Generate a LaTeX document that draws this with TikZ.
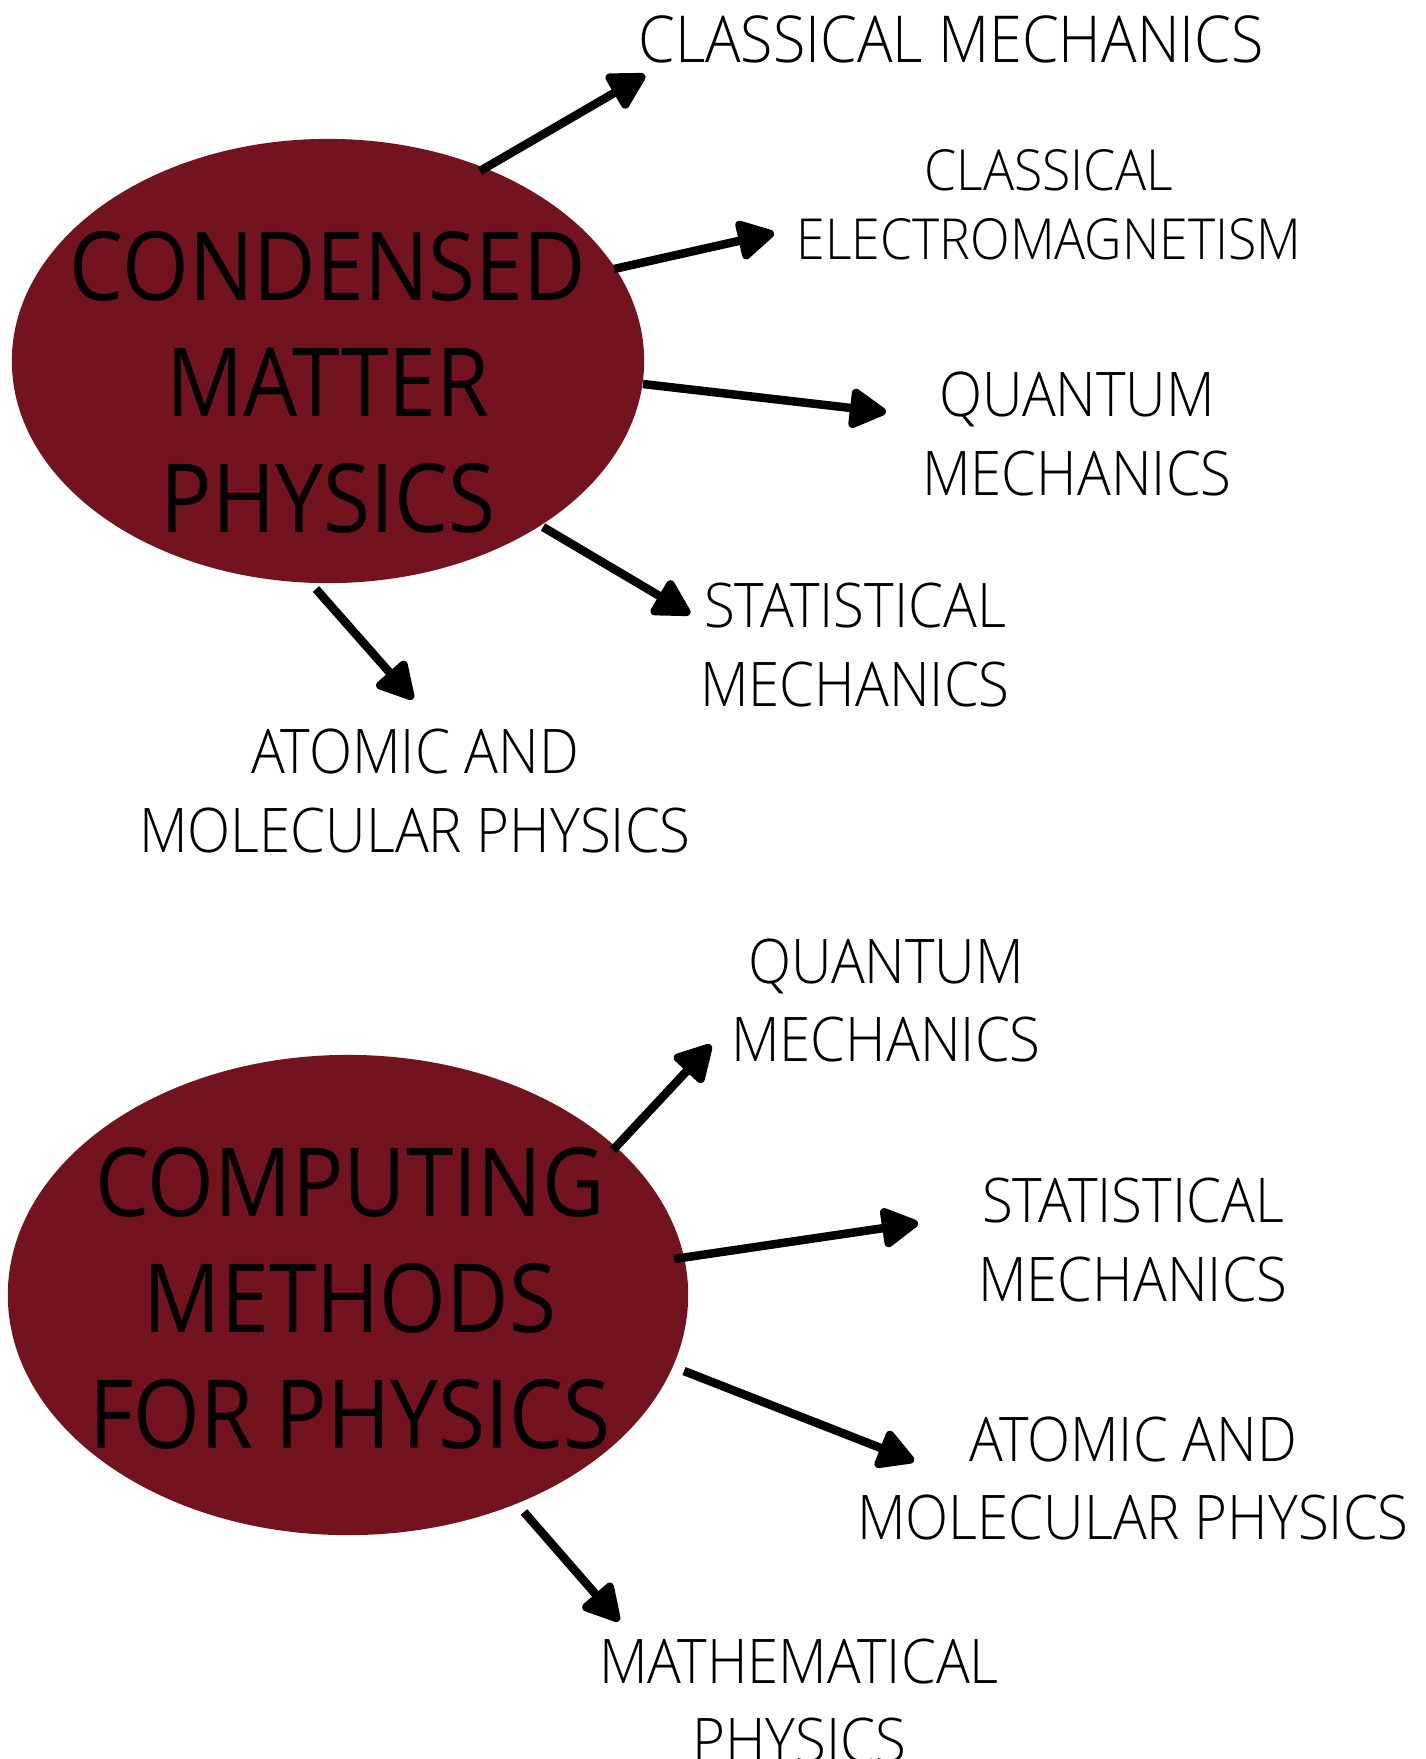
\documentclass[tikz,border=0pt]{standalone}
\usepackage{fontspec}
\IfFontExistsTF{Open Sans Light}{\setmainfont{Open Sans Light}[FakeStretch=0.915]}{\setmainfont{Open Sans}[FakeStretch=0.915]}
\newfontfamily\titlefont{Open Sans}[FakeStretch=0.9]
\usetikzlibrary{arrows.meta,shapes.geometric}
\definecolor{bubblered}{RGB}{115,19,32}
\tikzset{
  bubble/.style={ellipse, fill=bubblered, inner sep=0pt},
  titletext/.style={align=center, font=\titlefont\fontsize{27.1}{33}\selectfont, text=black, inner sep=0pt},
  lab/.style={align=center, font=\fontsize{17.5}{22.2}\selectfont, inner sep=0pt},
  biglab/.style={align=center, font=\fontsize{18.4}{22.2}\selectfont, inner sep=0pt},
  smalllab/.style={align=center, font=\fontsize{16.1}{19.5}\selectfont, inner sep=0pt},
  link/.style={line width=0.085cm, -{Triangle[length=0.41cm,width=0.43cm,round]}}
}
\begin{document}
\begin{tikzpicture}[x=0.01cm,y=-0.01cm]
\useasboundingbox (0,0) rectangle (1426,1759);
\clip (0,0) rectangle (1426,1759);

% top group
\node[bubble, minimum width=6.32cm, minimum height=4.44cm] (cmp) at (328,361) {};
\node[titletext] (cmpt) at (328,382) {CONDENSED\\MATTER\\PHYSICS};

\node[biglab] (cm) at (951,39) {CLASSICAL MECHANICS};
\node[smalllab] (ce) at (1049,205) {CLASSICAL\\ELECTROMAGNETISM};
\node[lab] (qm) at (1077,434) {QUANTUM\\MECHANICS};
\node[lab] (sm) at (855,645) {STATISTICAL\\MECHANICS};
\node[lab] (amp) at (415,791) {ATOMIC AND\\MOLECULAR PHYSICS};

\coordinate (a1s) at (480,171); \coordinate (a1e) at (645,75);
\coordinate (a2s) at (614,269); \coordinate (a2e) at (774,233);
\coordinate (a3s) at (643,384); \coordinate (a3e) at (886,412);
\coordinate (a4s) at (543,527); \coordinate (a4e) at (690,614);
\coordinate (a5s) at (316,589); \coordinate (a5e) at (413,699);
\draw[link] (a1s) -- (a1e);
\draw[link] (a2s) -- (a2e);
\draw[link] (a3s) -- (a3e);
\draw[link] (a4s) -- (a4e);
\draw[link] (a5s) -- (a5e);

% bottom group
\node[bubble, minimum width=6.8cm, minimum height=4.8cm] (cmfp) at (348,1295) {};
\node[titletext] (cmfpt) at (350,1298) {COMPUTING\\METHODS\\FOR PHYSICS};

\node[lab] (qm2) at (886,1000) {QUANTUM\\MECHANICS};
\node[lab] (sm2) at (1133,1240) {STATISTICAL\\MECHANICS};
\node[lab] (amp2) at (1133,1478) {ATOMIC AND\\MOLECULAR PHYSICS};
\node[lab] (mp) at (799,1701) {MATHEMATICAL\\PHYSICS};

\coordinate (b1s) at (613,1150); \coordinate (b1e) at (711,1045);
\coordinate (b2s) at (674,1259); \coordinate (b2e) at (918,1223);
\coordinate (b3s) at (684,1371); \coordinate (b3e) at (914,1461);
\coordinate (b4s) at (524,1512); \coordinate (b4e) at (619,1621);
\draw[link] (b1s) -- (b1e);
\draw[link] (b2s) -- (b2e);
\draw[link] (b3s) -- (b3e);
\draw[link] (b4s) -- (b4e);
\end{tikzpicture}
\end{document}
